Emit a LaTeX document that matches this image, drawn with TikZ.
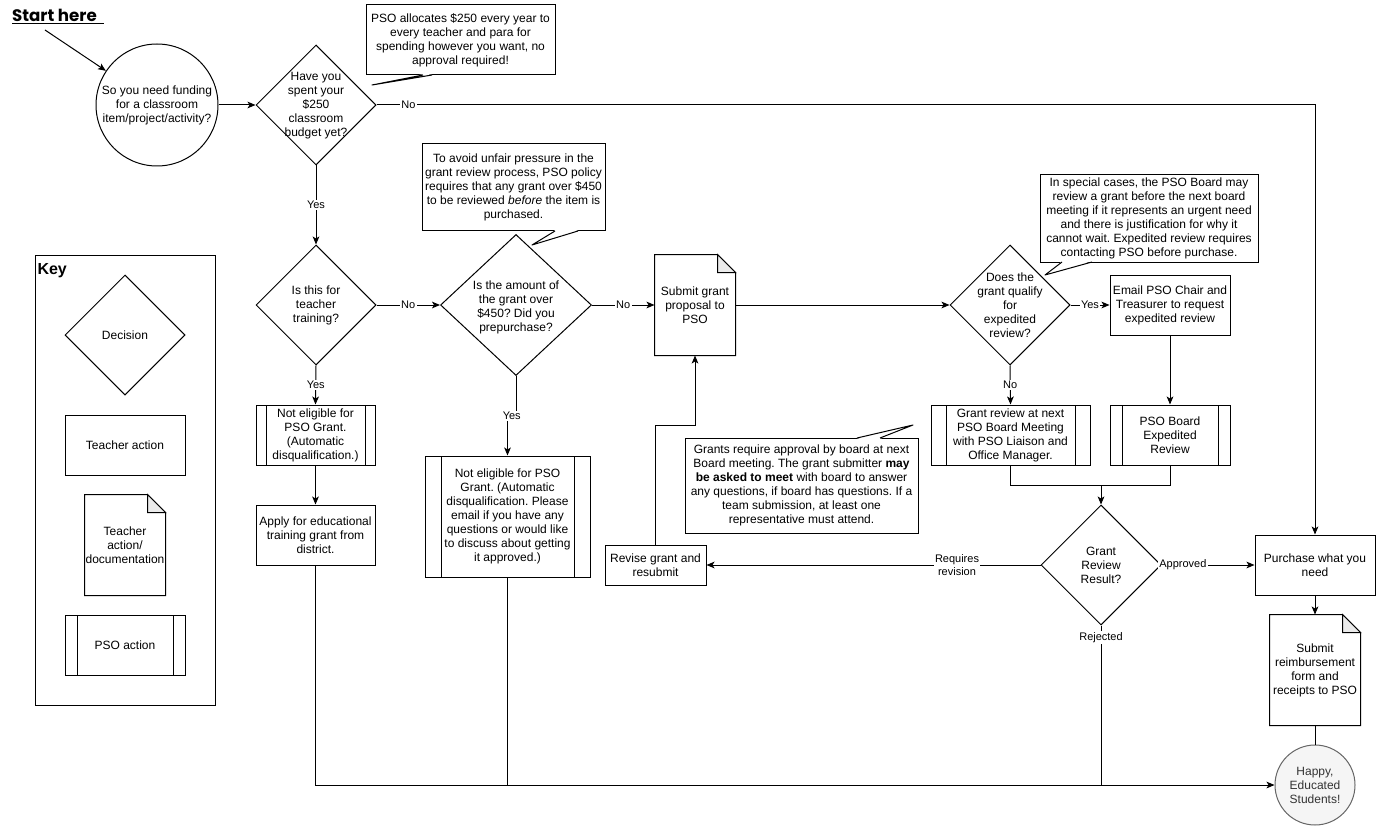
\documentclass[tikz,border=0pt]{standalone}
\usepackage{fontspec}
\setmainfont{Liberation Sans}
\newfontfamily\startfont{Poppins}
\usetikzlibrary{shapes.geometric,arrows.meta,backgrounds,calc}
\frenchspacing
\definecolor{foldgray}{HTML}{EBEBEB}
\definecolor{happyfill}{HTML}{F5F5F5}
\definecolor{happydraw}{HTML}{666666}
\definecolor{happytext}{HTML}{333333}
\newcommand\fs{\fontsize{9}{10.5}\selectfont}
\newcommand\fl{\fontsize{8.25}{9.5}\selectfont}
\newcommand\docshape[1]{%
  \draw[line width=0.75pt, fill=white, line join=miter] (#1.north west) -- ([xshift=-13.5pt]#1.north east) -- ([yshift=-13.5pt]#1.north east) -- (#1.south east) -- (#1.south west) -- cycle;
  \draw[line width=0.75pt, fill=foldgray] ([xshift=-13.5pt]#1.north east) -- ([xshift=-13.5pt,yshift=-13.5pt]#1.north east) -- ([yshift=-13.5pt]#1.north east) -- cycle;}
\newcommand\ptr[4]{%
  \fill[white] ([yshift=#4]#1) -- (#3) -- ([yshift=#4]#2) -- cycle;
  \draw[line join=round] (#1) -- (#3) -- (#2);}
\begin{document}
\begin{tikzpicture}[x=0.75pt,y=-0.75pt, line width=0.75pt,
  every node/.style={inner sep=0pt},
  box/.style={draw, fill=white, rectangle, align=center, font=\fs, line width=0.75pt},
  pso/.style={box, path picture={
      \draw[line width=0.75pt] ([xshift=#1]path picture bounding box.north west) -- ([xshift=#1]path picture bounding box.south west);
      \draw[line width=0.75pt] ([xshift=-#1]path picture bounding box.north east) -- ([xshift=-#1]path picture bounding box.south east);}},
  dia/.style={draw, fill=white, diamond, line width=0.75pt},
  txt/.style={align=center, font=\fs},
  doc/.style={rectangle, align=center, font=\fs},
  lbl/.style={fill=white, font=\fl, inner sep=1pt, align=center},
  arr/.style={-{Stealth[length=6pt,width=5pt,inset=1.5pt]}},
]
\useasboundingbox (0,0) rectangle (1376,827);

% ---- start ----
\node[font=\startfont\bfseries\fontsize{12.5}{14}\selectfont] (start) at (58,17) {\underline{Start here\ \ }};
\coordinate (sttail) at (45,30);
\node[circle, draw, fill=white, minimum size=91.5pt, font=\fs, align=center] (c1) at (157,105) {So you need funding\\for a classroom\\item/project/activity?};

% ---- decisions ----
\node[dia, minimum width=90pt, minimum height=90pt] (d1) at (316,105) {};
\node[txt] (d1t) at (316,106) {Have you\\spent your\\\$250\\classroom\\budget yet?};
\node[dia, minimum width=90pt, minimum height=90pt] (d2) at (316,305) {};
\node[txt] (d2t) at (316,305) {Is this for\\teacher\\training?};
\node[dia, minimum width=113.25pt, minimum height=105.75pt] (d3) at (516,305) {};
\node[txt] (d3t) at (516,307) {Is the amount of\\the grant over\\\$450? Did you\\prepurchase?};
\node[dia, minimum width=90pt, minimum height=90pt] (d4) at (1010,305) {};
\node[txt] (d4t) at (1010,305) {Does the\\grant qualify\\for\\expedited\\review?};
\node[dia, minimum width=90pt, minimum height=90pt] (d5) at (1101,565) {};
\node[txt] (d5t) at (1101,565) {Grant\\Review\\Result?};

% ---- actions ----
\node[pso=7.5pt, minimum width=89.25pt, minimum height=45pt] (ne1) at (315.5,435) {Not eligible for\\PSO Grant.\\(Automatic\\disqualification.)};
\node[box, minimum width=89.25pt, minimum height=45pt] (apply) at (315.5,535) {Apply for educational\\training grant from\\district.};
\node[pso=12pt, minimum width=123.75pt, minimum height=90.75pt] (ne2) at (507.5,516.5) {Not eligible for PSO\\Grant. (Automatic\\disqualification. Please\\email if you have any\\questions or would like\\to discuss about getting\\it approved.)};
\node[doc, minimum width=60pt, minimum height=75pt] (submit) at (695,305) {Submit grant\\proposal to\\PSO};
\node[box, minimum width=90pt, minimum height=45pt] (email) at (1170,305) {Email PSO Chair and\\Treasurer to request\\expedited review};
\node[pso=11.25pt, minimum width=119.25pt, minimum height=45pt] (grev) at (1010.5,435) {Grant review at next\\PSO Board Meeting\\with PSO Liaison and\\Office Manager.};
\node[pso=9pt, minimum width=90pt, minimum height=45pt] (exped) at (1170,435) {PSO Board\\Expedited\\Review};
\node[box, minimum width=75.75pt, minimum height=30pt] (revise) at (655.5,565) {Revise grant and\\resubmit};
\node[box, minimum width=90pt, minimum height=45pt] (purchase) at (1315,565) {Purchase what you\\need};
\node[doc, minimum width=67.5pt, minimum height=82.5pt] (reimb) at (1315,670) {Submit\\reimbursement\\form and\\receipts to PSO};
\node[circle, draw=happydraw, fill=happyfill, text=happytext, minimum size=60pt, font=\fs, align=center] (happy) at (1315,785) {Happy,\\Educated\\Students!};

% ---- key ----
\node[draw, minimum width=135pt, minimum height=337.5pt] (keybox) at (125,480) {};
\node[anchor=west, font=\bfseries\fontsize{12}{14}\selectfont] (keylbl) at (37,271) {Key};
\node[dia, minimum width=90pt, minimum height=90pt] (kdec) at (125,335) {};
\node[txt] (kdect) at (125,335) {Decision};
\node[box, minimum width=90pt, minimum height=45pt] (kteach) at (125,445) {Teacher action};
\node[doc, minimum width=60pt, minimum height=75pt] (kdoc) at (125,545) {Teacher\\action/\\documentation};
\node[pso=9pt, minimum width=90pt, minimum height=45pt] (kpso) at (125,645) {PSO action};

% ---- callouts ----
\node[box, minimum width=141.75pt, minimum height=52.5pt] (cb1) at (460.5,40) {PSO allocates \$250 every year to\\every teacher and para for\\spending however you want, no\\approval required!};
\node[box, minimum width=137.25pt, minimum height=65.25pt] (cb2) at (513.5,187.5) {To avoid unfair pressure in the\\grant review process, PSO policy\\requires that any grant over \$450\\to be reviewed \textit{before} the item is\\purchased.};
\node[box, minimum width=163.5pt, minimum height=65.25pt] (cb3) at (1149,218.5) {In special cases, the PSO Board may\\review a grant before the next board\\meeting if it represents an urgent need\\and there is justification for why it\\cannot wait. Expedited review requires\\contacting PSO before purchase.};
\node[box, minimum width=174.75pt, minimum height=71.25pt] (cb4) at (801.5,485.5) {Grants require approval by board at next\\Board meeting. The grant submitter \textbf{may}\\\textbf{be asked to meet} with board to answer\\any questions, if board has questions. If a\\team submission, at least one\\representative must attend.};

\coordinate (p1a) at (423,75); \coordinate (p1b) at (432,75); \coordinate (p1t) at (372,85);
\ptr{p1a}{p1b}{p1t}{0.6pt}
\coordinate (p2a) at (555,231); \coordinate (p2b) at (578,231); \coordinate (p2t) at (532,245);
\ptr{p2a}{p2b}{p2t}{0.6pt}
\coordinate (p3a) at (1062,262); \coordinate (p3b) at (1092,262); \coordinate (p3t) at (1045,275);
\ptr{p3a}{p3b}{p3t}{0.6pt}
\coordinate (p4a) at (857,438); \coordinate (p4b) at (880,438); \coordinate (p4t) at (913,425);
\ptr{p4a}{p4b}{p4t}{-0.6pt}

% ---- documents ----
\begin{scope}[on background layer]
  \docshape{submit}
  \docshape{reimb}
  \docshape{kdoc}
\end{scope}

% ---- connectors ----
\draw[arr] (sttail) -- (c1);
\draw[arr] (c1.east) -- (d1.west);
\draw[arr] (d1.east) -| (purchase.north) node[lbl, pos=0.017]{No};
\draw[arr] (d1.south) -- (d2.north) node[lbl, midway]{Yes};
\draw[arr] (d2.east) -- (d3.west) node[lbl, midway]{No};
\draw[arr] (d2.south) -- (ne1.north) node[lbl, midway]{Yes};
\draw[arr] (ne1.south) -- (apply.north);
\coordinate (jog) at ($(d3.south)!0.5!(ne2.north)$);
\draw[arr] (d3.south) |- (jog) -| (ne2.north);
\node[lbl] (yes3) at (jog) {Yes};
\draw[arr] (d3.east) -- (submit.west) node[lbl, midway]{No};
\draw[arr] (submit.east) -- (d4.west);
\draw[arr] (d4.east) -- (email.west) node[lbl, midway]{Yes};
\draw[arr] (d4.south) -- (grev.north) node[lbl, midway]{No};
\draw[arr] (email.south) -- (exped.north);
\coordinate (mrg) at (1101,485);
\draw (grev.south) |- (mrg);
\draw (exped.south) |- (mrg);
\draw[arr] (mrg) -- (d5.north);
\draw[arr] (d5.west) -- (revise.east) node[lbl, pos=0.25]{Requires\\revision};
\draw[arr] (d5.east) -- (purchase.west) node[lbl, pos=0.23]{Approved};
\coordinate (rvt) at (695,425);
\draw[arr] (revise.north) |- (rvt) -- (submit.south);
\draw[arr] (purchase.south) -- (reimb.north);
\draw (reimb.south) -- (happy.north);
\draw[arr] (apply.south) |- (happy.west);
\draw (ne2.south) -- (ne2.south |- happy.west);
\draw (d5.south) -- (d5.south |- happy.west) node[lbl, pos=0.075]{Rejected};
\end{tikzpicture}
\end{document}
